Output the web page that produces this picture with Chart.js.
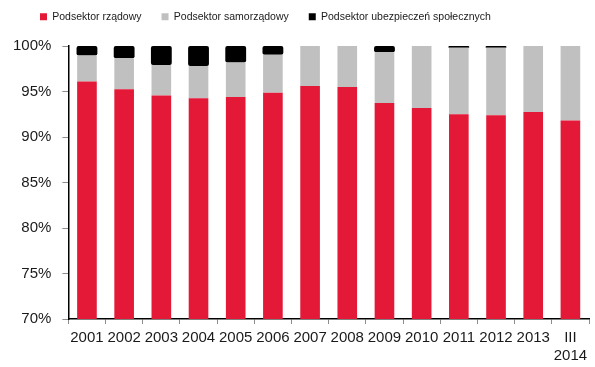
<!DOCTYPE html>
<html>
<head>
<meta charset="utf-8">
<script src="https://cdn.jsdelivr.net/npm/chart.js@4"></script>
<style>
    html, body { margin: 0; padding: 0; background: #ffffff; }
    #wrap { width: 595px; height: 367px; }
</style>
</head>
<body>
<div id="wrap"><canvas id="mycanvas"></canvas></div>
<script>
// data (share of total, %)
const years = ['2001', '2002', '2003', '2004', '2005', '2006', '2007', '2008', '2009', '2010', '2011', '2012', '2013', ['III', '2014']];
const rzadowy = [96.1, 95.25, 94.55, 94.25, 94.4, 94.85, 95.6, 95.5, 93.75, 93.2, 92.5, 92.4, 92.75, 91.8];
const samorzadowy = [2.85, 3.4, 3.35, 3.55, 3.8, 4.2, 4.4, 4.5, 5.55, 6.8, 7.3, 7.4, 7.25, 8.2];
const ubezpieczen = [1.05, 1.35, 2.1, 2.2, 1.8, 0.95, 0, 0, 0.7, 0, 0.2, 0.2, 0, 0];
const yTicks = [70, 75, 80, 85, 90, 95, 100];

function createChart() {
    const ctx = document.getElementById('mycanvas').getContext('2d');
    Chart.defaults.font.family = '"Liberation Sans", Arial, sans-serif';
    Chart.defaults.color = '#1a1a1a';

    // legend sits higher and a bit more to the right than the layout puts it
    const legendOffset = {
        id: 'legendOffset',
        afterLayout: chart => {
            chart.legend.top -= 14;
            chart.legend.left += 18;
        }
    };

    new Chart(ctx, {
        type: 'bar',
        data: {
            labels: years,
            datasets: [{
                label: 'Podsektor rządowy',
                data: rzadowy,
                backgroundColor: '#e31937',
                borderWidth: 0,
                barPercentage: 0.66,
            },
            {
                label: 'Podsektor samorządowy',
                data: samorzadowy,
                backgroundColor: '#c0c0c0',
                borderWidth: 0,
                barPercentage: 0.66,
            },
            {
                label: 'Podsektor ubezpieczeń społecznych',
                data: ubezpieczen,
                backgroundColor: '#000000',
                borderWidth: 0,
                borderRadius: 2,
                borderSkipped: false,
                barPercentage: 0.70,
            }]
        },
        options: {
            responsive: true,
            maintainAspectRatio: false,
            animation: false,
            layout: {
                padding: { left: 2, right: 6, top: 5.5, bottom: -3 },
            },
            plugins: {
                legend: {
                    position: 'top',
                    align: 'start',
                    labels: {
                        boxWidth: 7,
                        boxHeight: 7,
                        padding: 20,
                        font: { size: 10.5 },
                        color: '#1a1a1a',
                    },
                },
                tooltip: { enabled: false },
            },
            scales: {
                x: {
                    stacked: true,
                    offset: true,
                    grid: {
                        offset: true,
                        drawOnChartArea: false,
                        drawTicks: true,
                        tickLength: 5,
                        color: '#8c8c8c',
                    },
                    border: { color: '#000000', width: 1.5 },
                    ticks: {
                        autoSkip: false,
                        maxRotation: 0,
                        padding: 5,
                        font: { size: 15 },
                        color: '#1a1a1a',
                    },
                },
                y: {
                    stacked: true,
                    min: 70,
                    max: 100,
                    afterBuildTicks: scale => {
                        scale.ticks = yTicks.map(v => ({ value: v }));
                    },
                    grid: {
                        drawOnChartArea: false,
                        drawTicks: true,
                        tickLength: 6,
                        color: '#8c8c8c',
                    },
                    border: { color: '#000000', width: 1.5 },
                    ticks: {
                        padding: 11,
                        font: { size: 15 },
                        color: '#1a1a1a',
                        callback: v => v + '%',
                    },
                },
            },
        },
        plugins: [legendOffset],
    });
}

createChart();
</script>
</body>
</html>
